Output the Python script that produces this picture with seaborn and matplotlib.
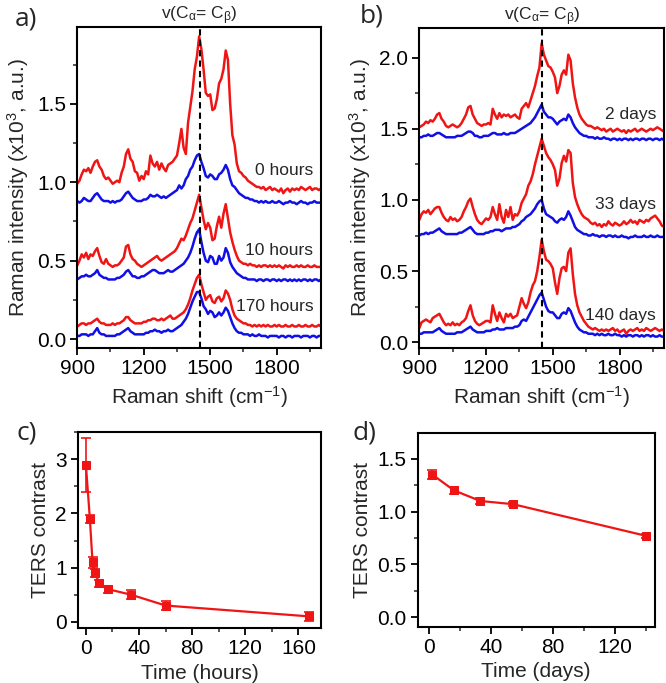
import numpy as np
import seaborn as sns
import matplotlib.pyplot as plt
from matplotlib.ticker import MultipleLocator

# Raman shift grid (cm-1), values every 10 cm-1
shift = np.arange(900, 2001, 10)

# panel a: spectra after 0, 10 and 170 hours (x10^3 a.u.)
red_0h = [0.99, 1.01, 1.05, 1.08, 1.07, 1.09, 1.06, 1.10, 1.13, 1.14,
          1.10, 1.08, 1.04, 1.02, 1.03, 1.01, 0.99, 1.00, 1.01, 1.00,
          1.06, 1.10, 1.18, 1.21, 1.15, 1.13, 1.07, 1.06, 1.01, 1.04,
          1.02, 1.07, 1.05, 1.17, 1.12, 1.10, 1.13, 1.08, 1.12, 1.09,
          1.07, 1.11, 1.12, 1.13, 1.15, 1.17, 1.25, 1.34, 1.22, 1.18,
          1.38, 1.48, 1.58, 1.72, 1.80, 1.93, 1.85, 1.72, 1.57, 1.55,
          1.56, 1.46, 1.47, 1.53, 1.63, 1.66, 1.72, 1.84, 1.78, 1.50,
          1.30, 1.24, 1.12, 1.07, 1.06, 1.04, 1.03, 1.01, 1.00, 0.99,
          0.98, 0.97, 0.97, 0.96, 0.97, 0.95, 0.96, 0.97, 0.95, 0.96,
          0.95, 0.94, 0.96, 0.93, 0.95, 0.96, 0.94, 0.96, 0.95, 0.96,
          0.95, 0.97, 0.96, 0.95, 0.96, 0.97, 0.95, 0.96, 0.96, 0.95,
          0.96]
blue_0h = [0.88, 0.87, 0.88, 0.90, 0.89, 0.88, 0.88, 0.90, 0.92, 0.93,
           0.91, 0.89, 0.88, 0.88, 0.88, 0.87, 0.88, 0.87, 0.88, 0.88,
           0.89, 0.91, 0.93, 0.94, 0.92, 0.90, 0.89, 0.88, 0.88, 0.88,
           0.89, 0.89, 0.90, 0.92, 0.91, 0.91, 0.92, 0.91, 0.90, 0.91,
           0.90, 0.91, 0.92, 0.93, 0.94, 0.95, 0.98, 0.96, 0.98, 1.02,
           1.04, 1.08, 1.10, 1.14, 1.17, 1.18, 1.13, 1.09, 1.04, 1.03,
           1.05, 1.04, 1.02, 1.02, 1.05, 1.06, 1.08, 1.11, 1.08, 1.02,
           0.98, 0.97, 0.95, 0.93, 0.92, 0.91, 0.90, 0.90, 0.89, 0.89,
           0.88, 0.88, 0.87, 0.88, 0.87, 0.88, 0.87, 0.87, 0.88, 0.87,
           0.87, 0.88, 0.87, 0.86, 0.87, 0.87, 0.88, 0.87, 0.87, 0.86,
           0.87, 0.88, 0.87, 0.87, 0.86, 0.87, 0.87, 0.88, 0.87, 0.87,
           0.87]
red_10h = [0.47, 0.50, 0.54, 0.52, 0.55, 0.51, 0.54, 0.53, 0.56, 0.58,
           0.53, 0.49, 0.48, 0.51, 0.48, 0.47, 0.46, 0.47, 0.47, 0.48,
           0.50, 0.52, 0.59, 0.60, 0.54, 0.51, 0.50, 0.48, 0.47, 0.46,
           0.47, 0.48, 0.49, 0.50, 0.51, 0.52, 0.53, 0.51, 0.50, 0.51,
           0.52, 0.53, 0.54, 0.55, 0.56, 0.58, 0.61, 0.64, 0.63, 0.66,
           0.70, 0.74, 0.77, 0.82, 0.87, 0.92, 0.84, 0.76, 0.70, 0.74,
           0.71, 0.63, 0.64, 0.72, 0.78, 0.71, 0.80, 0.86, 0.77, 0.68,
           0.62, 0.57, 0.53, 0.50, 0.49, 0.48, 0.48, 0.47, 0.48, 0.47,
           0.47, 0.46, 0.47, 0.46, 0.47, 0.47, 0.46, 0.47, 0.46, 0.47,
           0.46, 0.47, 0.46, 0.45, 0.47, 0.46, 0.47, 0.46, 0.46, 0.47,
           0.46, 0.47, 0.46, 0.46, 0.47, 0.46, 0.46, 0.47, 0.46, 0.46,
           0.46]
blue_10h = [0.38, 0.39, 0.40, 0.40, 0.41, 0.40, 0.40, 0.41, 0.42, 0.44,
            0.41, 0.40, 0.39, 0.39, 0.38, 0.38, 0.38, 0.38, 0.39, 0.39,
            0.40, 0.41, 0.43, 0.44, 0.42, 0.40, 0.40, 0.39, 0.39, 0.40,
            0.40, 0.41, 0.42, 0.43, 0.44, 0.44, 0.43, 0.42, 0.42, 0.42,
            0.43, 0.44, 0.43, 0.43, 0.44, 0.45, 0.46, 0.47, 0.48, 0.50,
            0.52, 0.55, 0.59, 0.64, 0.68, 0.70, 0.62, 0.55, 0.50, 0.49,
            0.53, 0.52, 0.48, 0.48, 0.53, 0.50, 0.52, 0.58, 0.55, 0.49,
            0.46, 0.44, 0.42, 0.41, 0.40, 0.39, 0.39, 0.38, 0.38, 0.38,
            0.38, 0.37, 0.38, 0.38, 0.37, 0.38, 0.38, 0.37, 0.38, 0.38,
            0.37, 0.38, 0.37, 0.38, 0.38, 0.37, 0.38, 0.37, 0.38, 0.37,
            0.38, 0.37, 0.38, 0.38, 0.37, 0.38, 0.37, 0.38, 0.38, 0.37,
            0.38]
red_170h = [0.08, 0.09, 0.10, 0.10, 0.09, 0.10, 0.10, 0.11, 0.12, 0.13,
            0.11, 0.10, 0.10, 0.09, 0.09, 0.09, 0.10, 0.09, 0.10, 0.10,
            0.11, 0.12, 0.14, 0.14, 0.12, 0.11, 0.10, 0.10, 0.10, 0.10,
            0.11, 0.11, 0.12, 0.12, 0.13, 0.13, 0.12, 0.12, 0.13, 0.12,
            0.13, 0.14, 0.15, 0.13, 0.13, 0.14, 0.15, 0.16, 0.17, 0.19,
            0.22, 0.26, 0.31, 0.35, 0.39, 0.41, 0.35, 0.30, 0.25, 0.27,
            0.28, 0.24, 0.23, 0.26, 0.27, 0.24, 0.26, 0.31, 0.29, 0.25,
            0.19, 0.15, 0.13, 0.12, 0.11, 0.10, 0.10, 0.09, 0.09, 0.08,
            0.09, 0.08, 0.09, 0.08, 0.09, 0.08, 0.09, 0.08, 0.08, 0.09,
            0.08, 0.09, 0.08, 0.08, 0.09, 0.08, 0.08, 0.09, 0.08, 0.08,
            0.09, 0.08, 0.08, 0.09, 0.08, 0.08, 0.09, 0.08, 0.08, 0.09,
            0.08]
blue_170h = [0.02, 0.02, 0.03, 0.03, 0.03, 0.02, 0.03, 0.03, 0.05, 0.07,
             0.04, 0.03, 0.03, 0.02, 0.02, 0.02, 0.02, 0.02, 0.03, 0.03,
             0.04, 0.05, 0.06, 0.07, 0.05, 0.04, 0.03, 0.03, 0.03, 0.03,
             0.03, 0.04, 0.04, 0.05, 0.05, 0.06, 0.05, 0.05, 0.04, 0.05,
             0.05, 0.06, 0.05, 0.05, 0.06, 0.07, 0.08, 0.09, 0.11, 0.13,
             0.16, 0.20, 0.24, 0.27, 0.30, 0.30, 0.26, 0.21, 0.19, 0.16,
             0.18, 0.17, 0.14, 0.15, 0.17, 0.15, 0.17, 0.20, 0.18, 0.14,
             0.10, 0.07, 0.05, 0.04, 0.04, 0.03, 0.03, 0.03, 0.02, 0.03,
             0.02, 0.02, 0.03, 0.02, 0.02, 0.02, 0.01, 0.02, 0.02, 0.02,
             0.02, 0.01, 0.02, 0.02, 0.01, 0.02, 0.02, 0.01, 0.02, 0.02,
             0.02, 0.01, 0.02, 0.02, 0.02, 0.01, 0.02, 0.02, 0.01, 0.02,
             0.02]

# panel b: spectra after 2, 33 and 140 days
red_2d = [1.51, 1.52, 1.53, 1.55, 1.54, 1.56, 1.55, 1.57, 1.60, 1.61,
          1.57, 1.55, 1.52, 1.51, 1.52, 1.53, 1.52, 1.51, 1.52, 1.54,
          1.57, 1.60, 1.65, 1.66, 1.60, 1.57, 1.54, 1.53, 1.52, 1.53,
          1.53, 1.54, 1.53, 1.64, 1.60, 1.57, 1.61, 1.58, 1.60, 1.59,
          1.60, 1.58, 1.59, 1.60, 1.58, 1.57, 1.64, 1.66, 1.68, 1.65,
          1.70, 1.75, 1.80, 1.87, 1.93, 2.10, 2.02, 1.98, 1.94, 1.93,
          1.90, 1.86, 1.75, 1.80, 1.88, 1.91, 1.88, 2.02, 1.98, 1.82,
          1.72, 1.65, 1.60, 1.57, 1.55, 1.53, 1.52, 1.52, 1.51, 1.50,
          1.51, 1.50, 1.49, 1.50, 1.48, 1.49, 1.50, 1.48, 1.49, 1.50,
          1.49, 1.48, 1.49, 1.47, 1.49, 1.48, 1.49, 1.50, 1.48, 1.49,
          1.50, 1.49, 1.48, 1.49, 1.50, 1.49, 1.50, 1.51, 1.50, 1.49,
          1.48]
blue_2d = [1.44, 1.44, 1.45, 1.45, 1.46, 1.45, 1.45, 1.46, 1.47, 1.47,
           1.46, 1.45, 1.44, 1.44, 1.44, 1.44, 1.44, 1.45, 1.45, 1.45,
           1.46, 1.47, 1.48, 1.48, 1.47, 1.45, 1.45, 1.44, 1.44, 1.45,
           1.45, 1.45, 1.46, 1.47, 1.47, 1.46, 1.46, 1.46, 1.47, 1.46,
           1.46, 1.47, 1.47, 1.47, 1.48, 1.49, 1.50, 1.51, 1.52, 1.53,
           1.54, 1.56, 1.58, 1.61, 1.64, 1.67, 1.62, 1.60, 1.58, 1.58,
           1.57, 1.55, 1.53, 1.55, 1.56, 1.57, 1.56, 1.60, 1.58, 1.54,
           1.51, 1.49, 1.47, 1.46, 1.45, 1.45, 1.44, 1.44, 1.44, 1.43,
           1.44, 1.43, 1.43, 1.44, 1.43, 1.43, 1.42, 1.43, 1.43, 1.42,
           1.43, 1.42, 1.43, 1.43, 1.42, 1.43, 1.42, 1.43, 1.43, 1.42,
           1.43, 1.43, 1.42, 1.43, 1.43, 1.42, 1.43, 1.43, 1.42, 1.43,
           1.42]
red_33d = [0.86, 0.90, 0.92, 0.91, 0.93, 0.90, 0.92, 0.94, 0.95, 0.95,
           0.91, 0.88, 0.86, 0.85, 0.88, 0.86, 0.87, 0.85, 0.86, 0.88,
           0.92, 0.95, 0.99, 1.01, 0.95, 0.90, 0.86, 0.84, 0.83, 0.85,
           0.87, 0.86, 0.88, 0.95, 0.90, 0.86, 0.97, 0.88, 0.84, 0.93,
           0.88, 0.95, 0.86, 0.90, 0.89, 0.92, 0.98, 1.01, 1.04, 1.10,
           1.13, 1.18, 1.25, 1.31, 1.37, 1.43, 1.38, 1.33, 1.30, 1.28,
           1.25, 1.21, 1.10, 1.15, 1.26, 1.31, 1.27, 1.35, 1.33, 1.12,
           1.02, 0.97, 0.93, 0.90, 0.88, 0.87, 0.86, 0.84, 0.83, 0.84,
           0.82, 0.83, 0.81, 0.83, 0.82, 0.85, 0.83, 0.82, 0.84, 0.83,
           0.82, 0.83, 0.85, 0.83, 0.84, 0.86, 0.84, 0.85, 0.83, 0.86,
           0.85, 0.84, 0.86, 0.85, 0.87, 0.88, 0.89, 0.87, 0.85, 0.82,
           0.81]
blue_33d = [0.75, 0.76, 0.76, 0.77, 0.76, 0.77, 0.77, 0.78, 0.79, 0.80,
            0.78, 0.77, 0.76, 0.76, 0.76, 0.76, 0.76, 0.76, 0.77, 0.77,
            0.78, 0.79, 0.80, 0.81, 0.79, 0.77, 0.76, 0.76, 0.76, 0.76,
            0.77, 0.77, 0.78, 0.78, 0.79, 0.79, 0.79, 0.78, 0.79, 0.80,
            0.80, 0.80, 0.81, 0.81, 0.82, 0.83, 0.85, 0.86, 0.88, 0.89,
            0.90, 0.92, 0.94, 0.97, 0.99, 1.00, 0.94, 0.90, 0.89, 0.88,
            0.87, 0.85, 0.84, 0.86, 0.87, 0.86, 0.88, 0.92, 0.89, 0.85,
            0.81, 0.79, 0.78, 0.77, 0.76, 0.76, 0.75, 0.75, 0.76, 0.75,
            0.75, 0.74, 0.75, 0.75, 0.74, 0.75, 0.75, 0.74, 0.75, 0.74,
            0.74, 0.75, 0.74, 0.74, 0.73, 0.74, 0.74, 0.75, 0.74, 0.74,
            0.74, 0.75, 0.74, 0.74, 0.75, 0.74, 0.74, 0.75, 0.74, 0.74,
            0.74]
red_140d = [0.10, 0.14, 0.15, 0.16, 0.15, 0.14, 0.17, 0.18, 0.19, 0.20,
            0.17, 0.14, 0.12, 0.13, 0.12, 0.14, 0.12, 0.13, 0.12, 0.14,
            0.15, 0.17, 0.22, 0.26, 0.19, 0.15, 0.13, 0.12, 0.13, 0.14,
            0.15, 0.15, 0.14, 0.26, 0.20, 0.15, 0.21, 0.17, 0.14, 0.20,
            0.18, 0.20, 0.17, 0.18, 0.19, 0.25, 0.31, 0.27, 0.24, 0.28,
            0.35, 0.40, 0.43, 0.50, 0.60, 0.72, 0.64, 0.58, 0.57, 0.55,
            0.52, 0.42, 0.34, 0.45, 0.52, 0.53, 0.50, 0.63, 0.66, 0.48,
            0.34, 0.26, 0.21, 0.18, 0.15, 0.13, 0.11, 0.10, 0.09, 0.10,
            0.09, 0.08, 0.09, 0.08, 0.09, 0.08, 0.09, 0.10, 0.08, 0.09,
            0.07, 0.08, 0.09, 0.06, 0.08, 0.09, 0.08, 0.09, 0.10, 0.08,
            0.09, 0.08, 0.10, 0.09, 0.08, 0.09, 0.10, 0.09, 0.08, 0.09,
            0.08]
blue_140d = [0.06, 0.06, 0.07, 0.07, 0.07, 0.07, 0.07, 0.08, 0.09, 0.10,
             0.08, 0.07, 0.06, 0.06, 0.06, 0.06, 0.06, 0.07, 0.07, 0.07,
             0.08, 0.09, 0.10, 0.11, 0.09, 0.08, 0.07, 0.07, 0.07, 0.07,
             0.08, 0.08, 0.08, 0.09, 0.09, 0.10, 0.09, 0.09, 0.09, 0.10,
             0.10, 0.10, 0.10, 0.11, 0.11, 0.12, 0.15, 0.16, 0.15, 0.18,
             0.21, 0.24, 0.27, 0.30, 0.33, 0.35, 0.30, 0.25, 0.22, 0.21,
             0.21, 0.19, 0.17, 0.17, 0.20, 0.21, 0.20, 0.24, 0.22, 0.18,
             0.14, 0.11, 0.09, 0.08, 0.07, 0.07, 0.06, 0.06, 0.06, 0.05,
             0.06, 0.05, 0.06, 0.05, 0.05, 0.06, 0.05, 0.05, 0.06, 0.05,
             0.05, 0.04, 0.05, 0.04, 0.05, 0.05, 0.04, 0.05, 0.05, 0.04,
             0.05, 0.04, 0.05, 0.05, 0.04, 0.05, 0.04, 0.04, 0.05, 0.04,
             0.04]

labels_a = ["0 hours", "10 hours", "170 hours"]
label_y_a = [1.075, 0.565, 0.205]
labels_b = ["2 days", "33 days", "140 days"]
label_y_b = [1.60, 0.97, 0.19]

# panel c / d: TERS contrast vs time
hours = [0, 3, 5, 7, 10, 17, 34, 60, 168]
contrast_c = [2.90, 1.90, 1.10, 0.90, 0.71, 0.60, 0.50, 0.30, 0.10]
err_c = [0.50, 0.08, 0.10, 0.07, 0.07, 0.06, 0.08, 0.08, 0.08]
days = [2, 16, 33, 54, 140]
contrast_d = [1.35, 1.20, 1.10, 1.07, 0.77]
err_d = [0.045, 0.03, 0.025, 0.02, 0.02]

RED = "#f01515"
BLUE = "#1010e6"

sns.set_style("ticks")
plt.rcParams['font.family'] = ['Liberation Sans', 'DejaVu Sans']
plt.rcParams['mathtext.fontset'] = 'custom'
plt.rcParams['mathtext.rm'] = 'Liberation Sans'
plt.rcParams['mathtext.it'] = 'Liberation Sans'


def style_axes(ax):
    for s in ax.spines.values():
        s.set_linewidth(1.5)
        s.set_color("black")
    ax.tick_params(which="major", direction="out", length=5, width=1.3,
                   labelsize=15, pad=3, colors="black")
    ax.tick_params(which="minor", direction="out", length=3, width=1.1)


def spectra_panel(ax, curves, labels, label_y, ylim, dash_x):
    for red, blue in curves:
        sns.lineplot(x=shift, y=red, ax=ax, color=RED, lw=1.8)
        sns.lineplot(x=shift, y=blue, ax=ax, color=BLUE, lw=1.8)
    for lab, y in zip(labels, label_y):
        ax.text(1965, y, lab, ha="right", va="center", fontsize=12.5)
    ax.axvline(dash_x, color="black", ls=(0, (3, 2)), lw=1.5)
    ax.set_xlim(900, 2000)
    ax.set_ylim(*ylim)
    ax.xaxis.set_major_locator(MultipleLocator(300))
    ax.xaxis.set_minor_locator(MultipleLocator(150))
    ax.yaxis.set_major_locator(MultipleLocator(0.5))
    ax.yaxis.set_minor_locator(MultipleLocator(0.25))
    ax.yaxis.set_major_formatter(lambda v, p: f"{v:.1f}")
    ax.set_xlabel(r"Raman shift (cm$^{-1}$)", fontsize=15)
    ax.set_ylabel(r"Raman intensity (x10$^3$, a.u.)", fontsize=15)
    ax.set_title(r"v(C$_{α}$= C$_{β}$)", fontsize=12.5, pad=3,
                 x=(dash_x - 900) / 1100)
    style_axes(ax)


fig = plt.figure(figsize=(6.66, 6.83), dpi=100)
ax_a = fig.add_axes([0.116, 0.4905, 0.366, 0.470])
ax_b = fig.add_axes([0.6296, 0.4905, 0.3674, 0.469])
ax_c = fig.add_axes([0.117, 0.0801, 0.365, 0.2879])
ax_d = fig.add_axes([0.627, 0.0824, 0.356, 0.2831])

spectra_panel(ax_a, [(red_0h, blue_0h), (red_10h, blue_10h), (red_170h, blue_170h)],
              labels_a, label_y_a, (-0.057, 1.99), 1452)
spectra_panel(ax_b, [(red_2d, blue_2d), (red_33d, blue_33d), (red_140d, blue_140d)],
              labels_b, label_y_b, (-0.04, 2.21), 1453)

# panel c
sns.lineplot(x=hours, y=contrast_c, ax=ax_c, color=RED, lw=1.6, marker="s",
             markersize=6, markeredgecolor=RED)
ax_c.errorbar(hours, contrast_c, yerr=err_c, fmt="none", ecolor=RED,
              elinewidth=1.2, capsize=3.5, capthick=1.2)
ax_c.set_xlim(-6, 177)
ax_c.set_ylim(-0.12, 3.51)
ax_c.xaxis.set_major_locator(MultipleLocator(40))
ax_c.xaxis.set_minor_locator(MultipleLocator(20))
ax_c.yaxis.set_major_locator(MultipleLocator(1))
ax_c.yaxis.set_minor_locator(MultipleLocator(0.5))
ax_c.set_xlabel("Time (hours)", fontsize=15)
ax_c.set_ylabel("TERS contrast", fontsize=15)
style_axes(ax_c)

# panel d
sns.lineplot(x=days, y=contrast_d, ax=ax_d, color=RED, lw=1.6, marker="s",
             markersize=6, markeredgecolor=RED)
ax_d.errorbar(days, contrast_d, yerr=err_d, fmt="none", ecolor=RED,
              elinewidth=1.2, capsize=3.5, capthick=1.2)
ax_d.set_xlim(-7.5, 145.5)
ax_d.set_ylim(-0.09, 1.74)
ax_d.xaxis.set_major_locator(MultipleLocator(40))
ax_d.xaxis.set_minor_locator(MultipleLocator(20))
ax_d.yaxis.set_major_locator(MultipleLocator(0.5))
ax_d.yaxis.set_minor_locator(MultipleLocator(0.25))
ax_d.yaxis.set_major_formatter(lambda v, p: f"{v:.1f}")
ax_d.set_xlabel("Time (days)", fontsize=15)
ax_d.set_ylabel("TERS contrast", fontsize=15)
style_axes(ax_d)

for txt, x, y in [("a)", 0.022, 0.99), ("b)", 0.54, 0.995),
                  ("c)", 0.025, 0.385), ("d)", 0.53, 0.385)]:
    fig.text(x, y, txt, fontsize=19, family="Open Sans", va="top", ha="left")

fig.savefig("out.png", dpi=100)
